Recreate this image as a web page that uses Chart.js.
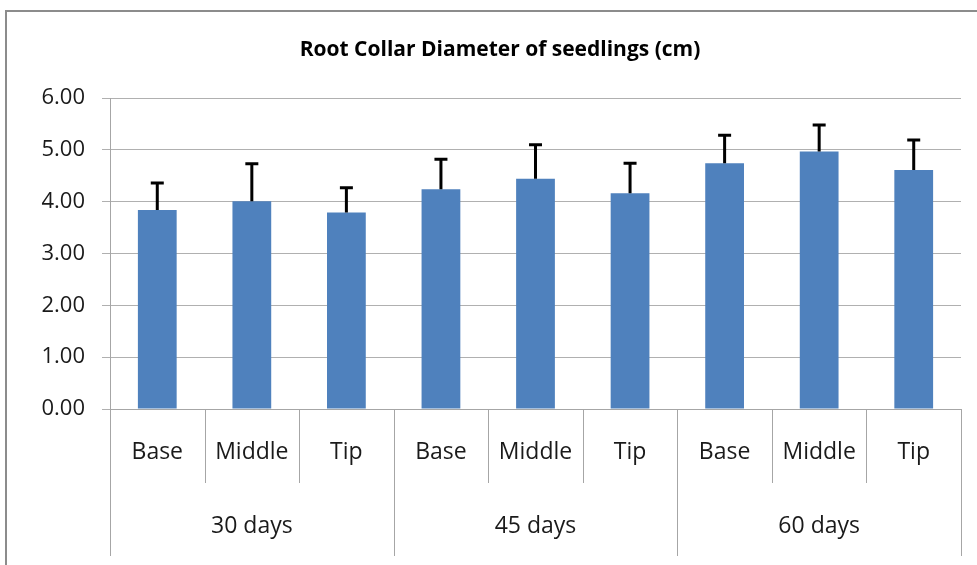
<!DOCTYPE html>
<html>
<head>
<meta charset="utf-8">
<script src="https://cdn.jsdelivr.net/npm/chart.js@4"></script>
<style>
  body { margin: 0; background: #fff; }
  #wrap { width: 977px; height: 565px; }
</style>
</head>
<body>
<div id="wrap"><canvas id="myChart" width="977" height="565"></canvas></div>
<script>
const categories = ['Base', 'Middle', 'Tip', 'Base', 'Middle', 'Tip', 'Base', 'Middle', 'Tip']
const groups = ['30 days', '45 days', '60 days']
const means = [3.84, 4.01, 3.79, 4.24, 4.44, 4.16, 4.74, 4.97, 4.61]
const errors = [0.52, 0.72, 0.48, 0.58, 0.66, 0.58, 0.54, 0.51, 0.58]
const title = 'Root Collar Diameter of seedlings (cm)'
const yMin = 0
const yMax = 6
const yStep = 1

const FONT = '"Open Sans", "Noto Sans", sans-serif'

// frame + title, drawn before everything
const framePlugin = {
    id: 'frame',
    beforeDraw(chart) {
        const c = chart.ctx
        c.save()
        c.fillStyle = '#fff'
        c.fillRect(0, 0, chart.width, chart.height)
        c.strokeStyle = '#8c8c8c'
        c.lineWidth = 2
        c.strokeRect(6, 11, 1000, 600)
        c.fillStyle = '#000'
        c.font = 'bold 21px ' + FONT
        c.textAlign = 'center'
        c.textBaseline = 'middle'
        c.fillText(title, 500, 50)
        c.restore()
    }
}

// two level category axis under the plot
const groupAxisPlugin = {
    id: 'groupAxis',
    afterDraw(chart) {
        const c = chart.ctx
        const area = chart.chartArea
        const n = categories.length
        const w = (area.right - area.left) / n
        c.save()
        c.strokeStyle = '#a6a6a6'
        c.lineWidth = 1
        for (let i = 0; i <= n; i++) {
            const x = Math.round(area.left + i * w) + 0.5
            c.beginPath()
            c.moveTo(x, area.bottom)
            c.lineTo(x, i % 3 === 0 ? area.bottom + 147 : area.bottom + 74)
            c.stroke()
        }
        c.fillStyle = '#1a1a1a'
        c.font = '23px ' + FONT
        c.textAlign = 'center'
        c.textBaseline = 'middle'
        categories.forEach((lab, i) => {
            c.fillText(lab, area.left + (i + 0.5) * w, area.bottom + 43)
        })
        groups.forEach((g, i) => {
            c.fillText(g, area.left + (i * 3 + 1.5) * w, area.bottom + 117)
        })
        c.restore()
    }
}

const errorBarPlugin = {
    id: 'errorBars',
    afterDatasetsDraw(chart) {
        const c = chart.ctx
        const yScale = chart.scales.y
        const meta = chart.getDatasetMeta(0)
        c.save()
        c.strokeStyle = '#000'
        c.lineWidth = 3
        meta.data.forEach((bar, i) => {
            const top = yScale.getPixelForValue(means[i] + errors[i])
            c.beginPath()
            c.moveTo(bar.x, bar.y)
            c.lineTo(bar.x, top)
            c.moveTo(bar.x - 6.5, top)
            c.lineTo(bar.x + 6.5, top)
            c.stroke()
        })
        c.restore()
    }
}

const ctx = document.getElementById('myChart')

new Chart(ctx, {
    type: 'bar',
    data: {
        labels: categories.map((c, i) => groups[Math.floor(i / 3)] + ' ' + c),
        datasets: [{
            data: means,
            backgroundColor: '#4f81bd',
            borderWidth: 0,
            barPercentage: 0.41,
            categoryPercentage: 1
        }]
    },
    options: {
        responsive: false,
        animation: false,
        layout: { padding: { top: 98, right: 16, left: 0, bottom: 0 } },
        plugins: {
            legend: { display: false },
            tooltip: { enabled: false },
            title: { display: false }
        },
        scales: {
            x: {
                grid: { display: false },
                ticks: { display: false },
                border: { display: true, color: '#a6a6a6' },
                afterFit: (scale) => { scale.height = 156 }
            },
            y: {
                min: yMin,
                max: yMax,
                ticks: {
                    stepSize: yStep,
                    padding: 17,
                    color: '#1a1a1a',
                    font: { family: FONT, size: 22 },
                    callback: (v) => v.toFixed(2)
                },
                grid: { color: '#b0b0b0', tickLength: 8, lineWidth: 1 },
                border: { color: '#a6a6a6' },
                afterFit: (scale) => { scale.width = 110 }
            }
        }
    },
    plugins: [framePlugin, groupAxisPlugin, errorBarPlugin]
})
</script>
</body>
</html>
